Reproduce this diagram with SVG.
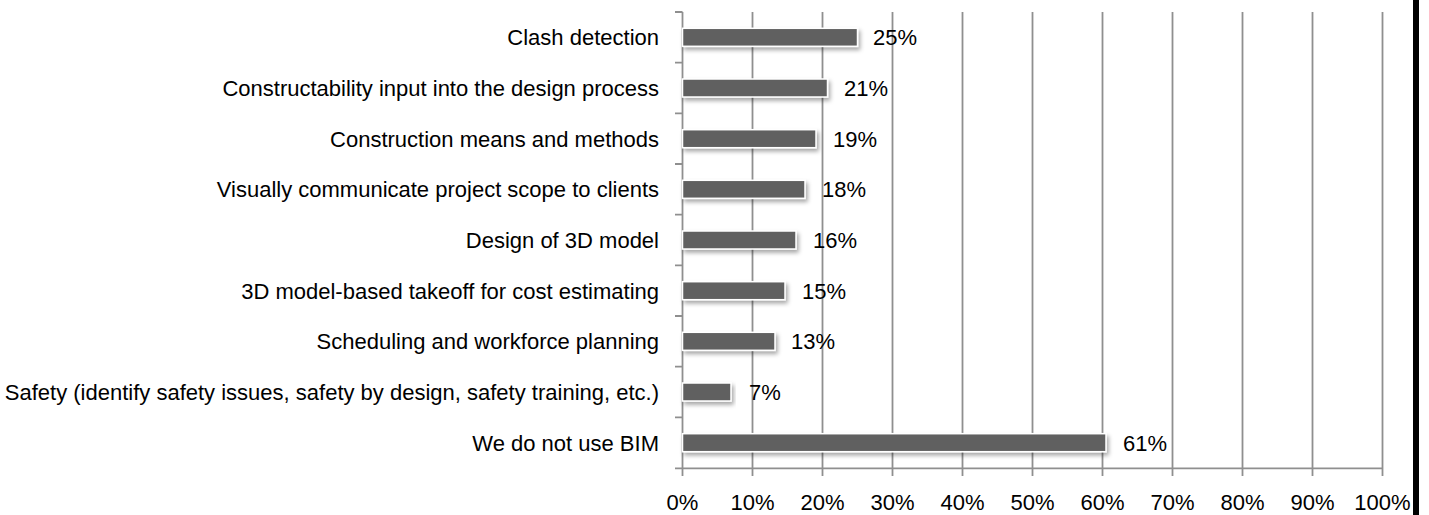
<svg xmlns="http://www.w3.org/2000/svg" width="1429" height="515" viewBox="0 0 1429 515">
<defs>
<style>
.lbl{font-family:"Liberation Sans",Arial,sans-serif;font-size:22px;fill:#000}
.cat{text-anchor:end}
.tick{text-anchor:middle}
.grid{stroke:#8f8f8f;stroke-width:1.8;fill:none}
.axis{stroke:#8f8f8f;stroke-width:1.8;fill:none}
.bar{fill:#606060;stroke:#ffffff;stroke-width:1.5;filter:url(#sh)}
</style>
<filter id="sh" x="-10%" y="-50%" width="120%" height="200%">
<feDropShadow dx="2" dy="3" stdDeviation="2" flood-color="#000" flood-opacity="0.35"/>
</filter>
</defs>
<rect width="1429" height="515" fill="#fff"/>
<g id="gridlines">
<path class="grid" d="M752.5 12V476M822.5 12V476M892.5 12V476M962.5 12V476M1032.5 12V476M1102.5 12V476M1172.5 12V476M1242.5 12V476M1312.5 12V476M1382.5 12V476"/>
</g>
<g id="axes">
<path class="axis" d="M682.5 12V476M675 468.3H1382.5"/>
<path class="axis" d="M675 12H682.5M675 62.7H682.5M675 113.3H682.5M675 164H682.5M675 214.7H682.5M675 265.3H682.5M675 316H682.5M675 366.7H682.5M675 417.3H682.5"/>
</g>
<g id="bars">
<g id="bar1"><rect class="bar" x="682.5" y="28.3" width="175" height="18"/><text class="lbl" x="873" y="45.3">25%</text><text class="lbl cat" x="659" y="45.3">Clash detection</text></g>
<g id="bar2"><rect class="bar" x="682.5" y="79" width="145" height="18"/><text class="lbl" x="844" y="96">21%</text><text class="lbl cat" x="659" y="96">Constructability input into the design process</text></g>
<g id="bar3"><rect class="bar" x="682.5" y="129.7" width="133.5" height="18"/><text class="lbl" x="833" y="146.7">19%</text><text class="lbl cat" x="659" y="146.7">Construction means and methods</text></g>
<g id="bar4"><rect class="bar" x="682.5" y="180.3" width="122.5" height="18"/><text class="lbl" x="822" y="197.3">18%</text><text class="lbl cat" x="659" y="197.3">Visually communicate project scope to clients</text></g>
<g id="bar5"><rect class="bar" x="682.5" y="231" width="113.5" height="18"/><text class="lbl" x="813" y="248">16%</text><text class="lbl cat" x="659" y="248">Design of 3D model</text></g>
<g id="bar6"><rect class="bar" x="682.5" y="281.7" width="102.5" height="18"/><text class="lbl" x="802" y="298.7">15%</text><text class="lbl cat" x="659" y="298.7">3D model-based takeoff for cost estimating</text></g>
<g id="bar7"><rect class="bar" x="682.5" y="332.3" width="92.5" height="18"/><text class="lbl" x="791" y="349.3">13%</text><text class="lbl cat" x="659" y="349.3">Scheduling and workforce planning</text></g>
<g id="bar8"><rect class="bar" x="682.5" y="383" width="48.5" height="18"/><text class="lbl" x="749" y="400">7%</text><text class="lbl cat" x="659" y="400">Safety (identify safety issues, safety by design, safety training, etc.)</text></g>
<g id="bar9"><rect class="bar" x="682.5" y="433.7" width="423.5" height="18"/><text class="lbl" x="1123" y="450.7">61%</text><text class="lbl cat" x="659" y="450.7">We do not use BIM</text></g>
</g>
<g id="xlabels">
<text class="lbl tick" x="682.5" y="510">0%</text>
<text class="lbl tick" x="752.5" y="510">10%</text>
<text class="lbl tick" x="822.5" y="510">20%</text>
<text class="lbl tick" x="892.5" y="510">30%</text>
<text class="lbl tick" x="962.5" y="510">40%</text>
<text class="lbl tick" x="1032.5" y="510">50%</text>
<text class="lbl tick" x="1102.5" y="510">60%</text>
<text class="lbl tick" x="1172.5" y="510">70%</text>
<text class="lbl tick" x="1242.5" y="510">80%</text>
<text class="lbl tick" x="1312.5" y="510">90%</text>
<text class="lbl tick" x="1382.5" y="510">100%</text>
</g>
<rect id="edge" x="1413" y="0" width="6" height="515" fill="#000"/>
</svg>
